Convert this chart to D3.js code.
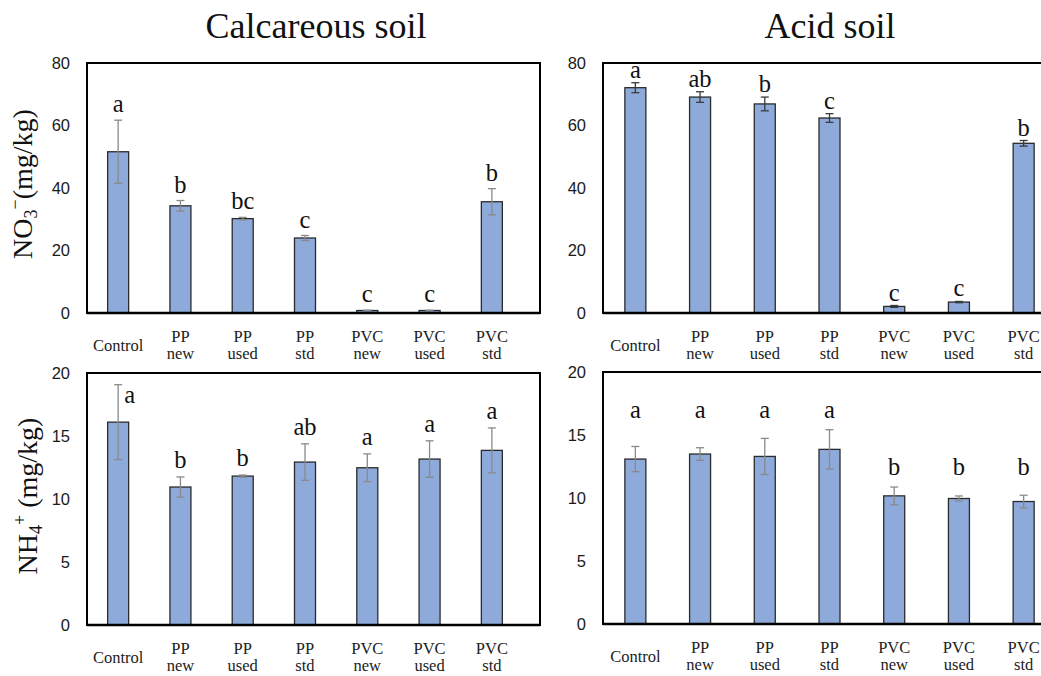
<!DOCTYPE html>
<html>
<head>
<meta charset="utf-8">
<script src="https://cdn.jsdelivr.net/npm/d3@7"></script>
<style>
  body { margin:0; background:#fff; }
  svg { display:block; }
  .tick text { font-family:"Liberation Sans", Arial, sans-serif; font-size:16.5px; fill:#1a1a1a; }
  .cat { font-family:"Liberation Serif", "Times New Roman", serif; font-size:16.5px; fill:#222; }
  .letter { font-family:"Liberation Serif", "Times New Roman", serif; font-size:24.5px; fill:#111; }
  .title { font-family:"Liberation Serif", "Times New Roman", serif; font-size:36px; fill:#111; }
  .ylab { font-family:"Liberation Serif", "Times New Roman", serif; font-size:28px; fill:#111; }
</style>
</head>
<body>
<div id="chart"></div>
<script>

// categories on the x axis
var categories = ["Control", "PP new", "PP used", "PP std", "PVC new", "PVC used", "PVC std"];

// NO3- (mg/kg), calcareous soil
var no3Calcareous        = [51.6, 34.3, 30.2, 24.0, 0.8, 0.8, 35.6];
var no3CalcareousErr     = [10.1, 1.7, 0.4, 0.8, 0.1, 0.1, 4.2];
var no3CalcareousLetters = ["a", "b", "bc", "c", "c", "c", "b"];

// NO3- (mg/kg), acid soil
var no3Acid        = [72.1, 69.1, 66.9, 62.4, 2.1, 3.5, 54.3];
var no3AcidErr     = [1.6, 1.7, 2.2, 1.4, 0.3, 0.2, 0.9];
var no3AcidLetters = ["a", "ab", "b", "c", "c", "c", "b"];

// NH4+ (mg/kg), calcareous soil
var nh4Calcareous        = [16.1, 10.95, 11.82, 12.93, 12.48, 13.17, 13.86];
var nh4CalcareousErr     = [2.97, 0.8, 0.08, 1.45, 1.1, 1.45, 1.78];
var nh4CalcareousLetters = ["a", "b", "b", "ab", "a", "a", "a"];

// NH4+ (mg/kg), acid soil
var nh4Acid        = [13.09, 13.49, 13.3, 13.86, 10.17, 9.96, 9.72];
var nh4AcidErr     = [1.0, 0.5, 1.43, 1.56, 0.7, 0.2, 0.5];
var nh4AcidLetters = ["a", "a", "a", "a", "b", "b", "b"];

// y axis ticks
var no3Ticks = [0, 20, 40, 60, 80];
var nh4Ticks = [0, 5, 10, 15, 20];

var titles = ["Calcareous soil", "Acid soil"];

/////////////////////////

var width = 1041, height = 676;
var barWidth = 21;

var svg = d3.select("#chart").append("svg")
    .attr("width", width)
    .attr("height", height);

// frame = box drawn round the plot, plotRight = where the last band ends
var panels = [
  {values:no3Calcareous, errors:no3CalcareousErr, letters:no3CalcareousLetters, ticks:no3Ticks,
   left:87, top:63, right:540, bottom:313, plotRight:523, errColor:"#8a8a8a", gap:8},
  {values:no3Acid, errors:no3AcidErr, letters:no3AcidLetters, ticks:no3Ticks,
   left:603, top:63, right:1080, bottom:313, plotRight:1056, errColor:"#3a3a3a", gap:5},
  {values:nh4Calcareous, errors:nh4CalcareousErr, letters:nh4CalcareousLetters, ticks:nh4Ticks,
   left:87, top:373, right:540, bottom:625, plotRight:523, errColor:"#8a8a8a", gap:9},
  {values:nh4Acid, errors:nh4AcidErr, letters:nh4AcidLetters, ticks:nh4Ticks,
   left:603, top:372, right:1080, bottom:624, plotRight:1056, errColor:"#8a8a8a", gap:12, alignLetters:true}
];

panels.forEach(function(p){

  var x = d3.scaleBand().domain(categories).range([p.left, p.plotRight]);
  var y = d3.scaleLinear()
      .domain([0, d3.max(p.ticks)])
      .range([p.bottom, p.top]);

  var g = svg.append("g");

  // Y axis labels only, no line
  var yAxis = g.append("g")
      .attr("transform", "translate(" + p.left + ",0)")
      .call(d3.axisLeft(y).tickValues(p.ticks).tickSize(0).tickPadding(17));
  yAxis.select(".domain").remove();

  var rows = categories.map(function(c, i){
    return {cat:c, value:p.values[i], err:p.errors[i], letter:p.letters[i]};
  });

  // Bars
  g.selectAll("rect.bar").data(rows).enter().append("rect")
      .attr("class", "bar")
      .attr("x", function(d){ return x(d.cat) + x.bandwidth()/2 - barWidth/2; })
      .attr("y", function(d){ return y(d.value); })
      .attr("width", barWidth)
      .attr("height", function(d){ return y(0) - y(d.value); })
      .attr("fill", "#8eaadb")
      .attr("stroke", "#2b2b2b")
      .attr("stroke-width", 1.3);

  // Error bars
  var eb = g.selectAll("g.err").data(rows).enter().append("g")
      .attr("class", "err")
      .attr("stroke", p.errColor)
      .attr("stroke-width", 1.3);
  eb.append("line")
      .attr("x1", function(d){ return x(d.cat) + x.bandwidth()/2; })
      .attr("x2", function(d){ return x(d.cat) + x.bandwidth()/2; })
      .attr("y1", function(d){ return y(d.value + d.err); })
      .attr("y2", function(d){ return y(d.value - d.err); });
  [1, -1].forEach(function(sign){
    eb.append("line")
        .attr("x1", function(d){ return x(d.cat) + x.bandwidth()/2 - 4; })
        .attr("x2", function(d){ return x(d.cat) + x.bandwidth()/2 + 4; })
        .attr("y1", function(d){ return y(d.value + sign*d.err); })
        .attr("y2", function(d){ return y(d.value + sign*d.err); });
  });

  // Significance letters
  g.selectAll("text.letter").data(rows).enter().append("text")
      .attr("class", "letter")
      .each(function(d){
        var cx = x(d.cat) + x.bandwidth()/2;
        var errTop = y(d.value + d.err);
        var base = errTop - p.gap;
        if(p.alignLetters){
          // same letter -> same height, above the tallest one
          var tops = rows.filter(function(r){ return r.letter == d.letter; })
              .map(function(r){ return y(r.value + r.err); });
          base = d3.min(tops) - p.gap;
        }
        var el = d3.select(this);
        if(base - 13 < p.top){
          // no room above: put it beside the error bar
          el.attr("x", cx + 6).attr("y", errTop + 18).attr("text-anchor", "start");
        } else {
          el.attr("x", cx).attr("y", base).attr("text-anchor", "middle");
        }
      })
      .text(function(d){ return d.letter; });

  // Frame
  g.append("rect")
      .attr("x", p.left)
      .attr("y", p.top)
      .attr("width", p.right - p.left)
      .attr("height", p.bottom - p.top)
      .attr("fill", "none")
      .attr("stroke", "#000")
      .attr("stroke-width", 2);
  g.append("line")
      .attr("x1", p.left).attr("x2", p.right)
      .attr("y1", y(0)).attr("y2", y(0))
      .attr("stroke", "#000").attr("stroke-width", 2.5);

  // Category labels, two lines where there's a space
  g.selectAll("text.cat").data(categories).enter().append("text")
      .attr("class", "cat")
      .attr("text-anchor", "middle")
      .each(function(c){
        var cx = x(c) + x.bandwidth()/2;
        var words = c.split(" ");
        var el = d3.select(this);
        if(words.length == 1){
          el.attr("x", cx).attr("y", p.bottom + 38).text(c);
        } else {
          words.forEach(function(w, k){
            el.append("tspan").attr("x", cx).attr("y", p.bottom + 29 + k*17).text(w);
          });
        }
      });
});

// Titles
svg.append("text").attr("class", "title")
    .attr("x", 316).attr("y", 38).attr("text-anchor", "middle")
    .text(titles[0]);
svg.append("text").attr("class", "title")
    .attr("x", 830).attr("y", 38).attr("text-anchor", "middle")
    .text(titles[1]);

// Y axis titles
var no3Label = svg.append("text").attr("class", "ylab")
    .attr("text-anchor", "middle")
    .attr("transform", "translate(32,184) rotate(-90)");
no3Label.append("tspan").text("NO");
no3Label.append("tspan").attr("font-size", "18px").attr("dy", 5).text("3");
no3Label.append("tspan").attr("font-size", "18px").attr("dy", -16).text("\u2212");
no3Label.append("tspan").attr("dy", 11).text("(mg/kg)");

var nh4Label = svg.append("text").attr("class", "ylab")
    .attr("text-anchor", "middle")
    .attr("transform", "translate(37,496) rotate(-90)");
nh4Label.append("tspan").text("NH");
nh4Label.append("tspan").attr("font-size", "18px").attr("dy", 5).text("4");
nh4Label.append("tspan").attr("font-size", "18px").attr("dy", -16).text("+");
nh4Label.append("tspan").attr("dy", 11).text(" (mg/kg)");

</script>
</body>
</html>
